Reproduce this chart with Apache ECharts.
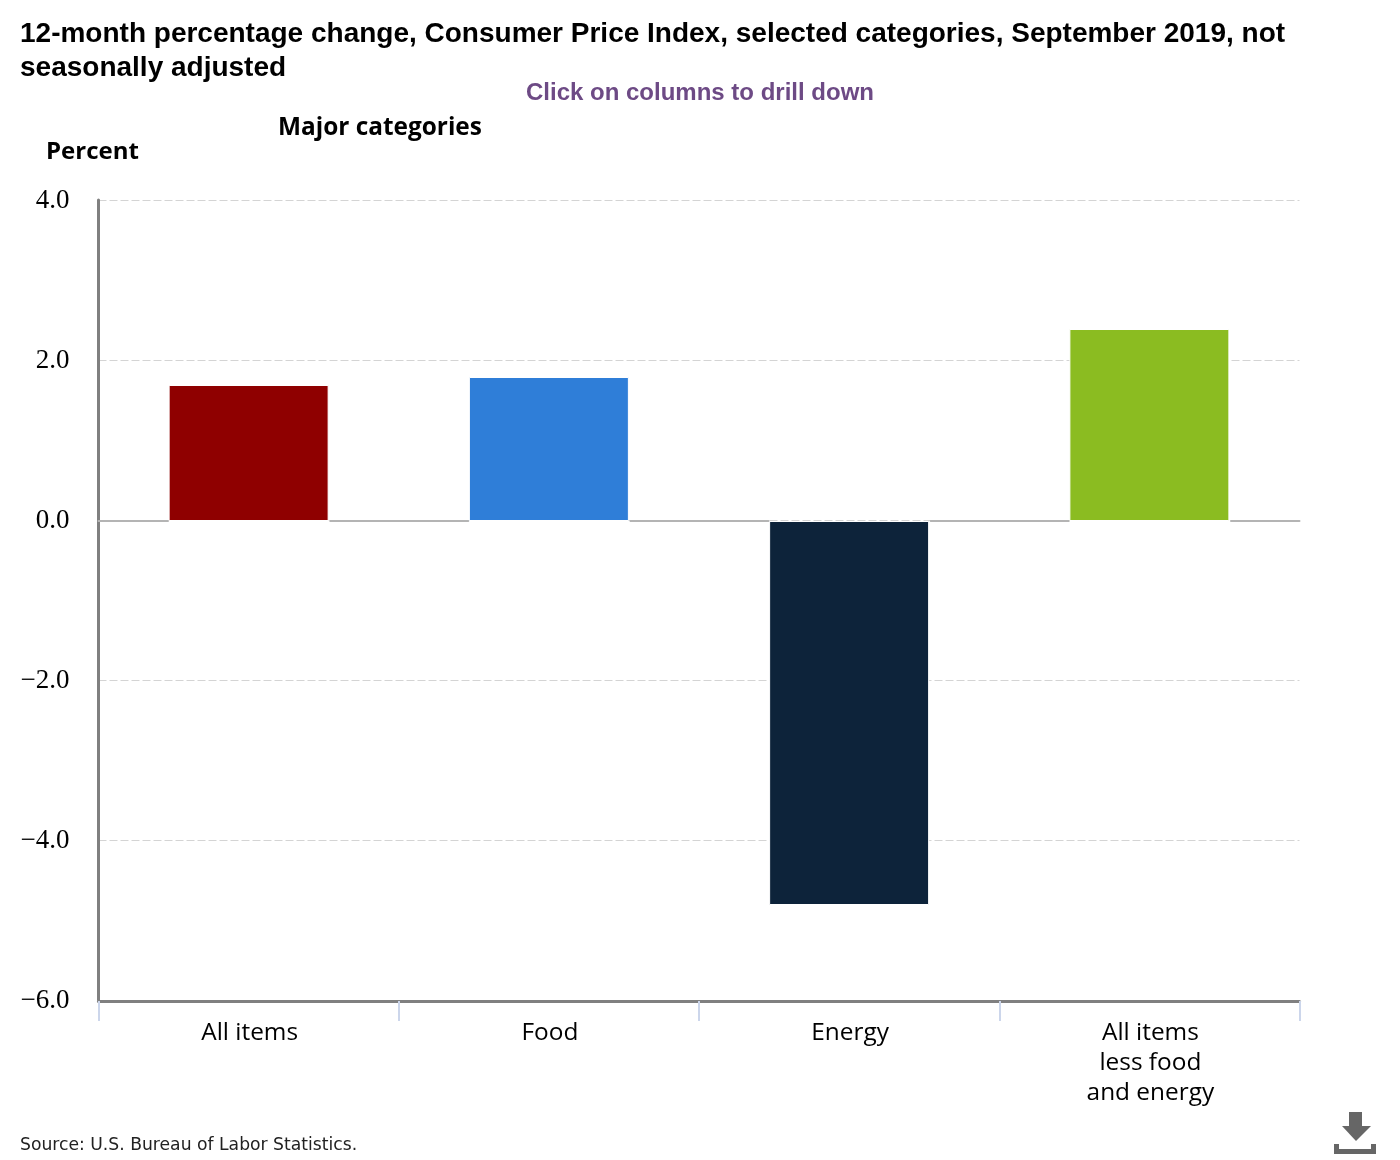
<!DOCTYPE html>
<html>
<head>
<meta charset="utf-8">
<style>html,body{margin:0;padding:0;background:#fff}#c{width:1400px;height:1160px}</style>
<script src="https://cdn.jsdelivr.net/npm/echarts@6/dist/echarts.min.js"></script>
</head>
<body>
<div id="c"></div>
<script>
const categories = ["All items", "Food", "Energy", "All items\nless food\nand energy"];
const values = [1.7, 1.8, -4.8, 2.4];
const barColors = ["#8f0000", "#2f7ed8", "#0d233a", "#8bbc21"];
const titleText = "12-month percentage change, Consumer Price Index, selected categories, September 2019, not\nseasonally adjusted";
const subtitleText = "Click on columns to drill down";
const groupText = "Major categories";
const unitText = "Percent";
const sourceText = "Source: U.S. Bureau of Labor Statistics.";

const chart = echarts.init(document.getElementById('c'), null, {renderer: 'canvas'});
const labelFont = '"Open Sans"';
chart.setOption({
  animation: false,
  backgroundColor: '#fff',
  title: [
    {text: titleText, left: 20, top: 17, padding: 0, textStyle: {fontFamily: 'Liberation Sans', fontWeight: 'bold', fontSize: 28, lineHeight: 34, color: '#000'}},
    {text: subtitleText, left: 700, top: 80, padding: 0, textAlign: 'center', textStyle: {fontFamily: 'Liberation Sans', fontWeight: 'bold', fontSize: 24, lineHeight: 26, color: '#6d4a85'}},
    {text: groupText, left: 278, top: 112, padding: 0, textStyle: {fontFamily: labelFont, fontWeight: 'bold', fontSize: 24.4, lineHeight: 32, color: '#000'}},
    {text: unitText, left: 46, top: 136, padding: 0, textStyle: {fontFamily: labelFont, fontWeight: 'bold', fontSize: 24, lineHeight: 32, color: '#000'}},
    {text: sourceText, left: 20, top: 1136, padding: 0, textStyle: {fontFamily: 'DejaVu Sans', fontWeight: 'normal', fontSize: 17.2, lineHeight: 20, color: '#222'}}
  ],
  grid: [
    {left: 98.5, right: 100.5, top: 200, bottom: 160, containLabel: false},
    {left: 98.5, right: 100.5, top: 201, bottom: 159, containLabel: false}
  ],
  xAxis: [
    {
      gridIndex: 0, type: 'category', data: categories, show: false
    },
    {
      gridIndex: 1, type: 'category', data: categories, position: 'bottom',
      axisLine: {onZero: false, lineStyle: {color: '#808080', width: 3}},
      axisTick: {show: true, length: 20, alignWithLabel: false, lineStyle: {color: '#ccd6eb', width: 2}},
      axisLabel: {fontFamily: labelFont, fontSize: 24.4, lineHeight: 30, color: '#000', margin: 17, interval: 0, padding: [0, 0, 0, 2]}
    },
    {
      gridIndex: 1, type: 'category', data: categories, position: 'bottom',
      axisLine: {show: true, onZero: true, lineStyle: {color: '#b4b4b4', width: 2, type: [138, 162.25], dashOffset: 68.5}},
      axisTick: {show: false}, axisLabel: {show: false}, splitLine: {show: false}
    }
  ],
  yAxis: [
    {
      gridIndex: 0, type: 'value', min: -6, max: 4, interval: 2,
      axisLine: {show: true, onZero: false, lineStyle: {color: '#808080', width: 3}},
      axisTick: {show: false},
      splitLine: {show: true, lineStyle: {color: '#d4d4d4', type: [8, 3], width: 1}},
      axisLabel: {show: false}
    },
    {
      gridIndex: 1, type: 'value', min: -6, max: 4, interval: 2,
      axisLine: {show: false}, axisTick: {show: false}, splitLine: {show: false},
      axisLabel: {
        fontFamily: 'Liberation Serif', fontSize: 27, color: '#000', margin: 29,
        formatter: v => (v < 0 ? '\u2212' : '') + Math.abs(v).toFixed(1)
      }
    }
  ],
  series: [{
    type: 'bar',
    xAxisIndex: 1,
    yAxisIndex: 1,
    data: values.map((v, i) => ({value: v, itemStyle: {color: barColors[i]}})),
    barWidth: 160,
    itemStyle: {borderColor: '#fff', borderWidth: 1}
  }],
  graphic: [
    {type: 'rect', shape: {x: 1349, y: 1112, width: 13, height: 14}, style: {fill: '#666'}},
    {type: 'polygon', shape: {points: [[1342, 1126], [1371, 1126], [1356, 1141]]}, style: {fill: '#666'}},
    {type: 'polygon', shape: {points: [[1334, 1144], [1339, 1144], [1339, 1149], [1371, 1149], [1371, 1144], [1376, 1144], [1376, 1154], [1334, 1154]]}, style: {fill: '#666'}}
  ]
});
</script>
</body>
</html>
